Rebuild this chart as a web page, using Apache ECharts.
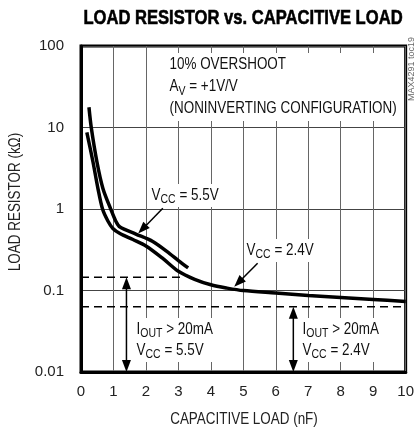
<!DOCTYPE html>
<html><head><meta charset="utf-8">
<script src="https://cdn.jsdelivr.net/npm/echarts@6/dist/echarts.min.js"></script>
<style>html,body{margin:0;padding:0;background:#fff}#c{width:417px;height:433px}</style>
</head><body><div id="c"></div>
<script>
// ---- data ----
const xTickLabels = ['0','1','2','3','4','5','6','7','8','9','10'];
const yTickLabels = {0.01:'0.01', 0.1:'0.1', 1:'1', 10:'10', 100:'100'};
// VCC = 5.5V curve (capacitive load nF, load resistor kΩ)
const vcc55 = [[0.245,17.7],[0.316,10],[0.49,3.8],[0.675,1.79],[0.92,0.99],[1.07,0.713],[1.2,0.60],[1.69,0.493],[2.21,0.399],[2.73,0.284],[3.0,0.233],[3.3,0.189]];
// VCC = 2.4V curve
const vcc24 = [[0.18,8.73],[0.368,3.80],[0.521,1.79],[0.666,0.99],[0.828,0.713],[0.982,0.577],[1.2,0.500],[1.6,0.422],[2.0,0.352],[2.5,0.251],[3.0,0.172],[3.5,0.137],[4.0,0.1175],[4.5,0.107],[5.0,0.0997],[6.0,0.0931],[7.0,0.0869],[8.0,0.0821],[9.0,0.0776],[10,0.0733]];
// IOUT > 20mA limits (dashed)
const limit55 = [[0,0.145],[3.2,0.145]];
const limit24 = [[0,0.063],[10,0.063]];
// double arrows for the limit regions: [x1, y1, x2, y2, double-headed]
const span55 = [1.4, 0.145, 1.4, 0.01, 1];
const span24 = [6.54, 0.063, 6.54, 0.01, 1];
// label pointer arrows: tail -> head
const pointer55 = [2.52, 1.02, 1.76, 0.50, 0];
const pointer24 = [5.44, 0.216, 4.72, 0.111, 0];

const FONT = '"Liberation Sans",Arial,sans-serif';
const SX = 0.84;
const sub = {s:{fontSize:12.5, fontFamily:FONT, verticalAlign:'bottom', lineHeight:21, fill:'#111'}};

const chart = echarts.init(document.getElementById('c'), null, {renderer:'canvas'});
function txt(x, y, text, extra) {
  return {type:'text', x:x, y:y, z:5, scaleX:SX,
    style:Object.assign({text:text, font:'16px ' + FONT, fill:'#111', lineHeight:20,
      verticalAlign:'top', rich:sub, backgroundColor:'#fff', padding:[1,3,1,3]}, extra||{})};
}
function arrowItem(params, api) {
  const p1 = api.coord([api.value(0), api.value(1)]);
  const p2 = api.coord([api.value(2), api.value(3)]);
  const both = api.value(4) === 1;
  const L = 12, W = 4.5;
  const dx = p2[0]-p1[0], dy = p2[1]-p1[1], len = Math.hypot(dx, dy);
  const ux = dx/len, uy = dy/len, nx = -uy, ny = ux;
  const head = (t, ax, ay) => ({type:'polygon', shape:{points:[[t[0],t[1]],
      [t[0]-ax*L+nx*W, t[1]-ay*L+ny*W], [t[0]-ax*L-nx*W, t[1]-ay*L-ny*W]]}, style:{fill:'#000'}});
  const s = both ? [p1[0]+ux*(L-1), p1[1]+uy*(L-1)] : p1;
  const e = [p2[0]-ux*(L-1), p2[1]-uy*(L-1)];
  const children = [{type:'line', shape:{x1:s[0], y1:s[1], x2:e[0], y2:e[1]}, style:{stroke:'#000', lineWidth:1.5}}, head(p2, ux, uy)];
  if (both) children.push(head(p1, -ux, -uy));
  return {type:'group', children:children};
}
chart.setOption({
  animation:false,
  grid:{left:81, right:10, top:46, bottom:61, show:true, borderColor:'#000', borderWidth:3, backgroundColor:'transparent'},
  xAxis:{type:'value', min:0, max:10, interval:1,
    axisLine:{show:true, lineStyle:{color:'#000', width:3}}, axisTick:{show:false},
    axisLabel:{margin:12, fontSize:15, fontFamily:FONT, color:'#222', formatter:v=>xTickLabels[Math.round(v)]},
    splitLine:{show:true, lineStyle:{color:'#666', width:1}}},
  yAxis:{type:'log', logBase:10, min:0.01, max:100,
    axisLine:{show:true, lineStyle:{color:'#000', width:3}}, axisTick:{show:false},
    axisLabel:{margin:17, fontSize:15, fontFamily:FONT, color:'#222', formatter:v=>yTickLabels[v] || ''},
    splitLine:{show:true, lineStyle:{color:'#444', width:1}}},
  graphic:[
    {type:'text', x:243, y:8, z:5, scaleX:0.79, style:{text:'LOAD RESISTOR vs. CAPACITIVE LOAD', font:'bold 21px ' + FONT, fill:'#000', align:'center', verticalAlign:'top', stroke:'#000', lineWidth:0.6}},
    {type:'text', x:244, y:420, z:5, scaleX:SX, style:{text:'CAPACITIVE LOAD (nF)', font:'16px ' + FONT, fill:'#222', align:'center', verticalAlign:'middle'}},
    {type:'text', x:16, y:202, rotation:Math.PI/2, z:5, scaleX:SX, style:{text:'LOAD RESISTOR (kΩ)', font:'16px ' + FONT, fill:'#222', align:'center', verticalAlign:'middle'}},
    {type:'text', x:412, y:101, rotation:Math.PI/2, z:5, style:{text:'MAX4291 toc19', font:'9px ' + FONT, fill:'#666', align:'left', verticalAlign:'middle'}},
    txt(167, 53, '10% OVERSHOOT\nA{s|V} = +1V/V\n(NONINVERTING CONFIGURATION)', {lineHeight:22}),
    txt(149, 184, 'V{s|CC} = 5.5V'),
    txt(244, 239, 'V{s|CC} = 2.4V'),
    txt(134, 318, 'I{s|OUT} > 20mA\nV{s|CC} = 5.5V'),
    txt(300, 318, 'I{s|OUT} > 20mA\nV{s|CC} = 2.4V')
  ],
  series:[
    {type:'line', name:'VCC = 5.5V', data:vcc55, symbol:'none', smooth:0.3, z:3,
      lineStyle:{color:'#000', width:3.5}},
    {type:'line', name:'VCC = 2.4V', data:vcc24, symbol:'none', smooth:0.3, z:3,
      lineStyle:{color:'#000', width:3.5}},
    {type:'line', data:limit55, symbol:'none', z:2, lineStyle:{color:'#000', width:1.5, type:[8,5]}},
    {type:'line', data:limit24, symbol:'none', z:2, lineStyle:{color:'#000', width:1.5, type:[8,5]}},
    {type:'custom', renderItem:arrowItem, z:4, encode:{x:[0,2], y:[1,3]},
      data:[span55, span24, pointer55, pointer24]}
  ]
});
</script></body></html>
